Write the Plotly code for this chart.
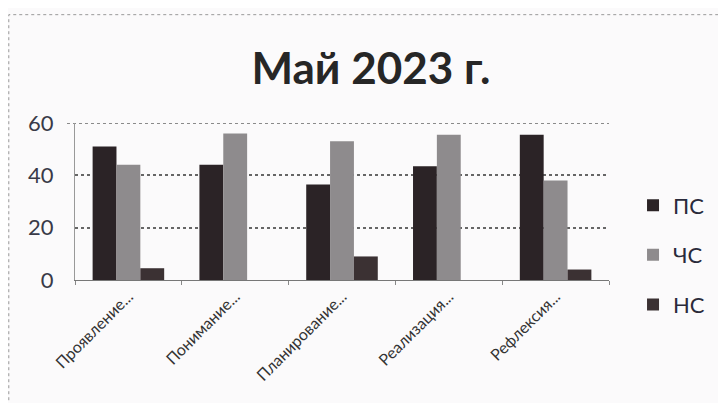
import plotly.graph_objects as go

categories = ["Проявление...", "Понимание...", "Планирование...", "Реализация...", "Рефлексия..."]
ps = [51, 44, 36.5, 43.5, 55.5]
chs = [44, 56, 53, 55.5, 38]
ns = [4.5, 0, 9, 0, 4]
series_names = ["ПС", "ЧС", "НС"]
colors = ["#2b2326", "#8e8b8d", "#3b3133"]
y_max = 60

fig = go.Figure()
for i, (name, vals) in enumerate(zip(series_names, [ps, chs, ns])):
    fig.add_trace(go.Bar(
        x=categories, y=vals, name=name, legendgroup=name,
        marker=dict(color=colors[i], line=dict(width=0)),
    ))

fig.update_layout(
    width=726, height=403,
    margin=dict(l=67, r=125, t=115, b=131),
    paper_bgcolor="#fbfafb", plot_bgcolor="#fbfafb",
    font=dict(family="Lato, Open Sans, sans-serif", color="#333333"),
    title=dict(text="<b>Май 2023 г.</b>", x=0.5, xanchor="center", y=1 - 61 / 403, yanchor="middle",
               yref="container", font=dict(size=44, color="#262626")),
    barmode="group", bargap=0.33, bargroupgap=0,
    legend=dict(x=1.045, xanchor="left", y=0.16, yanchor="middle", traceorder="grouped",
                tracegroupgap=18, font=dict(size=22, color="#2a2a3a"), bgcolor="rgba(0,0,0,0)"),
    showlegend=True,
)
fig.update_yaxes(range=[0, y_max], tickvals=[0, 20, 40, 60], showgrid=True, gridcolor="#666666",
                 griddash="dot", gridwidth=1.5, zeroline=False, showline=True, linecolor="#999999",
                 tickfont=dict(size=22, color="#3a3a48"), ticklabelstandoff=16)
fig.update_xaxes(showline=True, linecolor="#777777", ticks="outside", tickson="boundaries", ticklen=4,
                 tickcolor="#888888", tickangle=-45, tickfont=dict(size=16, color="#333333"))
# top gridline at the axis maximum
fig.add_shape(type="line", xref="paper", yref="y", x0=-0.015, x1=1, y0=y_max, y1=y_max,
              line=dict(color="#666666", width=1.5, dash="dot"), layer="below")
fig.add_shape(type="rect", xref="paper", yref="paper", x0=-0.124, x1=1.3, y0=-0.9, y1=1.69,
              line=dict(color="#999999", width=1, dash="dot"), fillcolor="rgba(0,0,0,0)", layer="below")
fig.write_html("out.html")
